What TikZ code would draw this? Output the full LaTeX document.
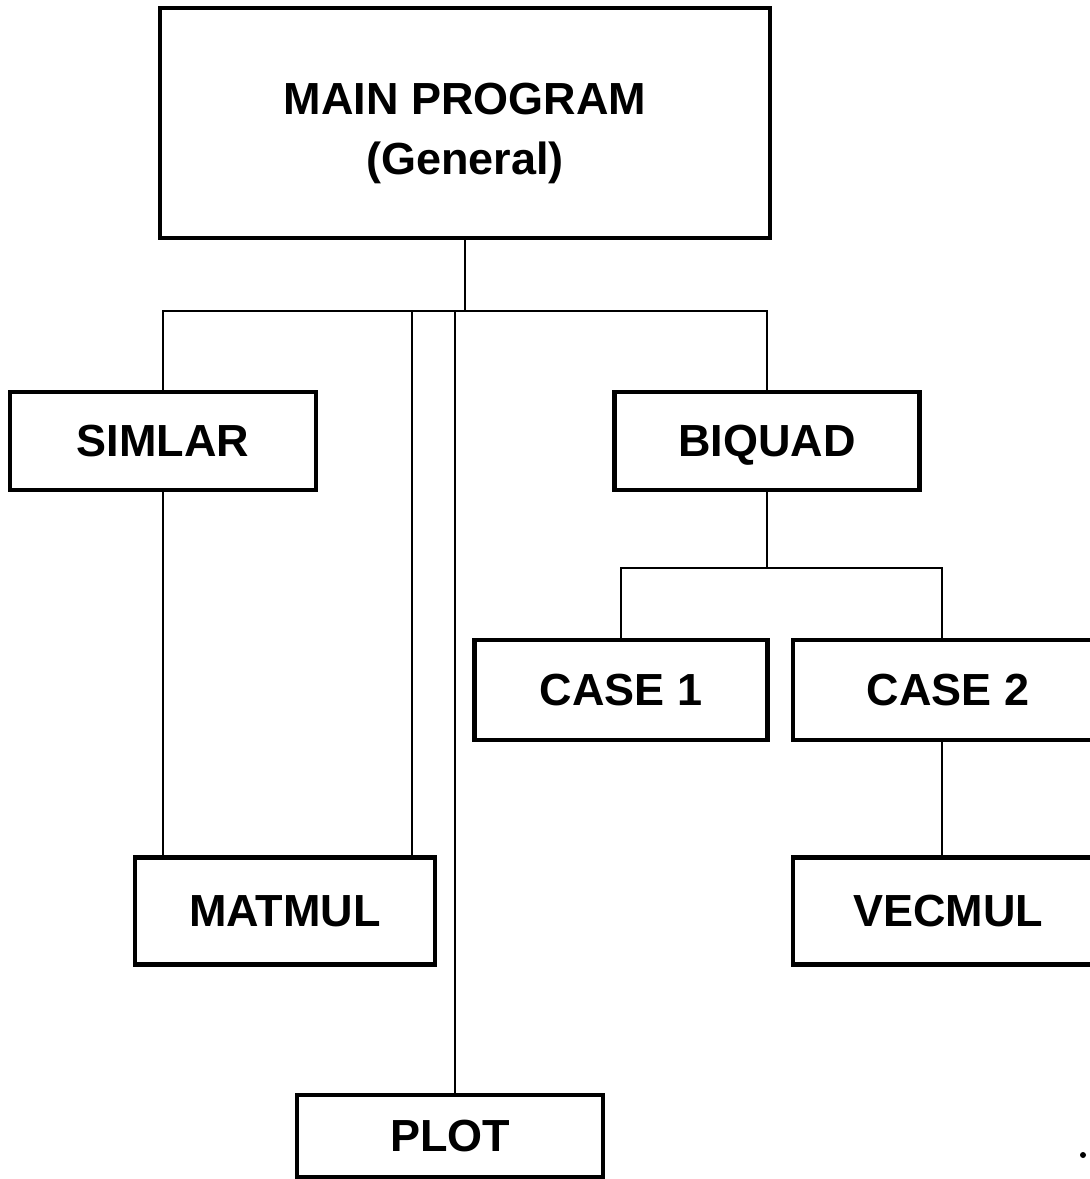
\documentclass[tikz,border=0pt]{standalone}
\usepackage{fontspec}
\setmainfont{Liberation Sans}
\usetikzlibrary{positioning}
\tikzset{
  modbox/.style={draw, line width=1.4pt, inner sep=0pt, align=center,
    font=\fontsize{12.8}{17}\selectfont\bfseries},
  link/.style={line width=0.6pt}
}

\begin{document}
\begin{tikzpicture}[x=0.1mm, y=-0.1mm]
  \useasboundingbox (0,0) rectangle (1090,1179);
  \node [modbox, minimum width=61mm, minimum height=23mm] (main) at (465,123) {\rule{0pt}{15pt}MAIN PROGRAM\\(General)};
  % subroutine boxes: name/x/y/width/height/label
  \foreach \nm/\x/\y/\w/\h/\txt in {simlar/163/441/30.6/9.8/SIMLAR, biquad/767/441/30.5/9.8/BIQUAD,
      case1/621/690/29.3/10/CASE 1, case2/948/690/31/10/CASE 2,
      matmul/285/911/30/10.7/MATMUL, vecmul/948/911/31/10.7/VECMUL,
      plot/450/1136/30.6/8.2/PLOT}{
    \node [modbox, text depth=0pt, minimum width=\w mm, minimum height=\h mm] (\nm) at (\x,\y) {\txt};
  }
  \coordinate (bus) at (465,311);
  \coordinate (fork) at (767,568);
  \draw [link] (main.south) -- (bus);
  \draw [link] (simlar.north) |- (bus) -| (biquad.north);
  \draw [link] (simlar.south) -- (simlar.south |- matmul.north);
  \draw [link] ([xshift=12.7mm]matmul.north) -- ([xshift=12.7mm]matmul.north |- bus);
  \draw [link] ([xshift=0.5mm]plot.north) -- ([xshift=0.5mm]plot.north |- bus);
  \draw [link] (biquad.south) -- (fork);
  \draw [link] (case1.north) |- (fork) -| ([xshift=-0.6mm]case2.north);
  \draw [link] ([xshift=-0.6mm]case2.south) -- ([xshift=-0.6mm]vecmul.north);
  \node [circle, fill, inner sep=0pt, minimum size=0.6mm] (dot) at (1083,1155) {};
\end{tikzpicture}
\end{document}
